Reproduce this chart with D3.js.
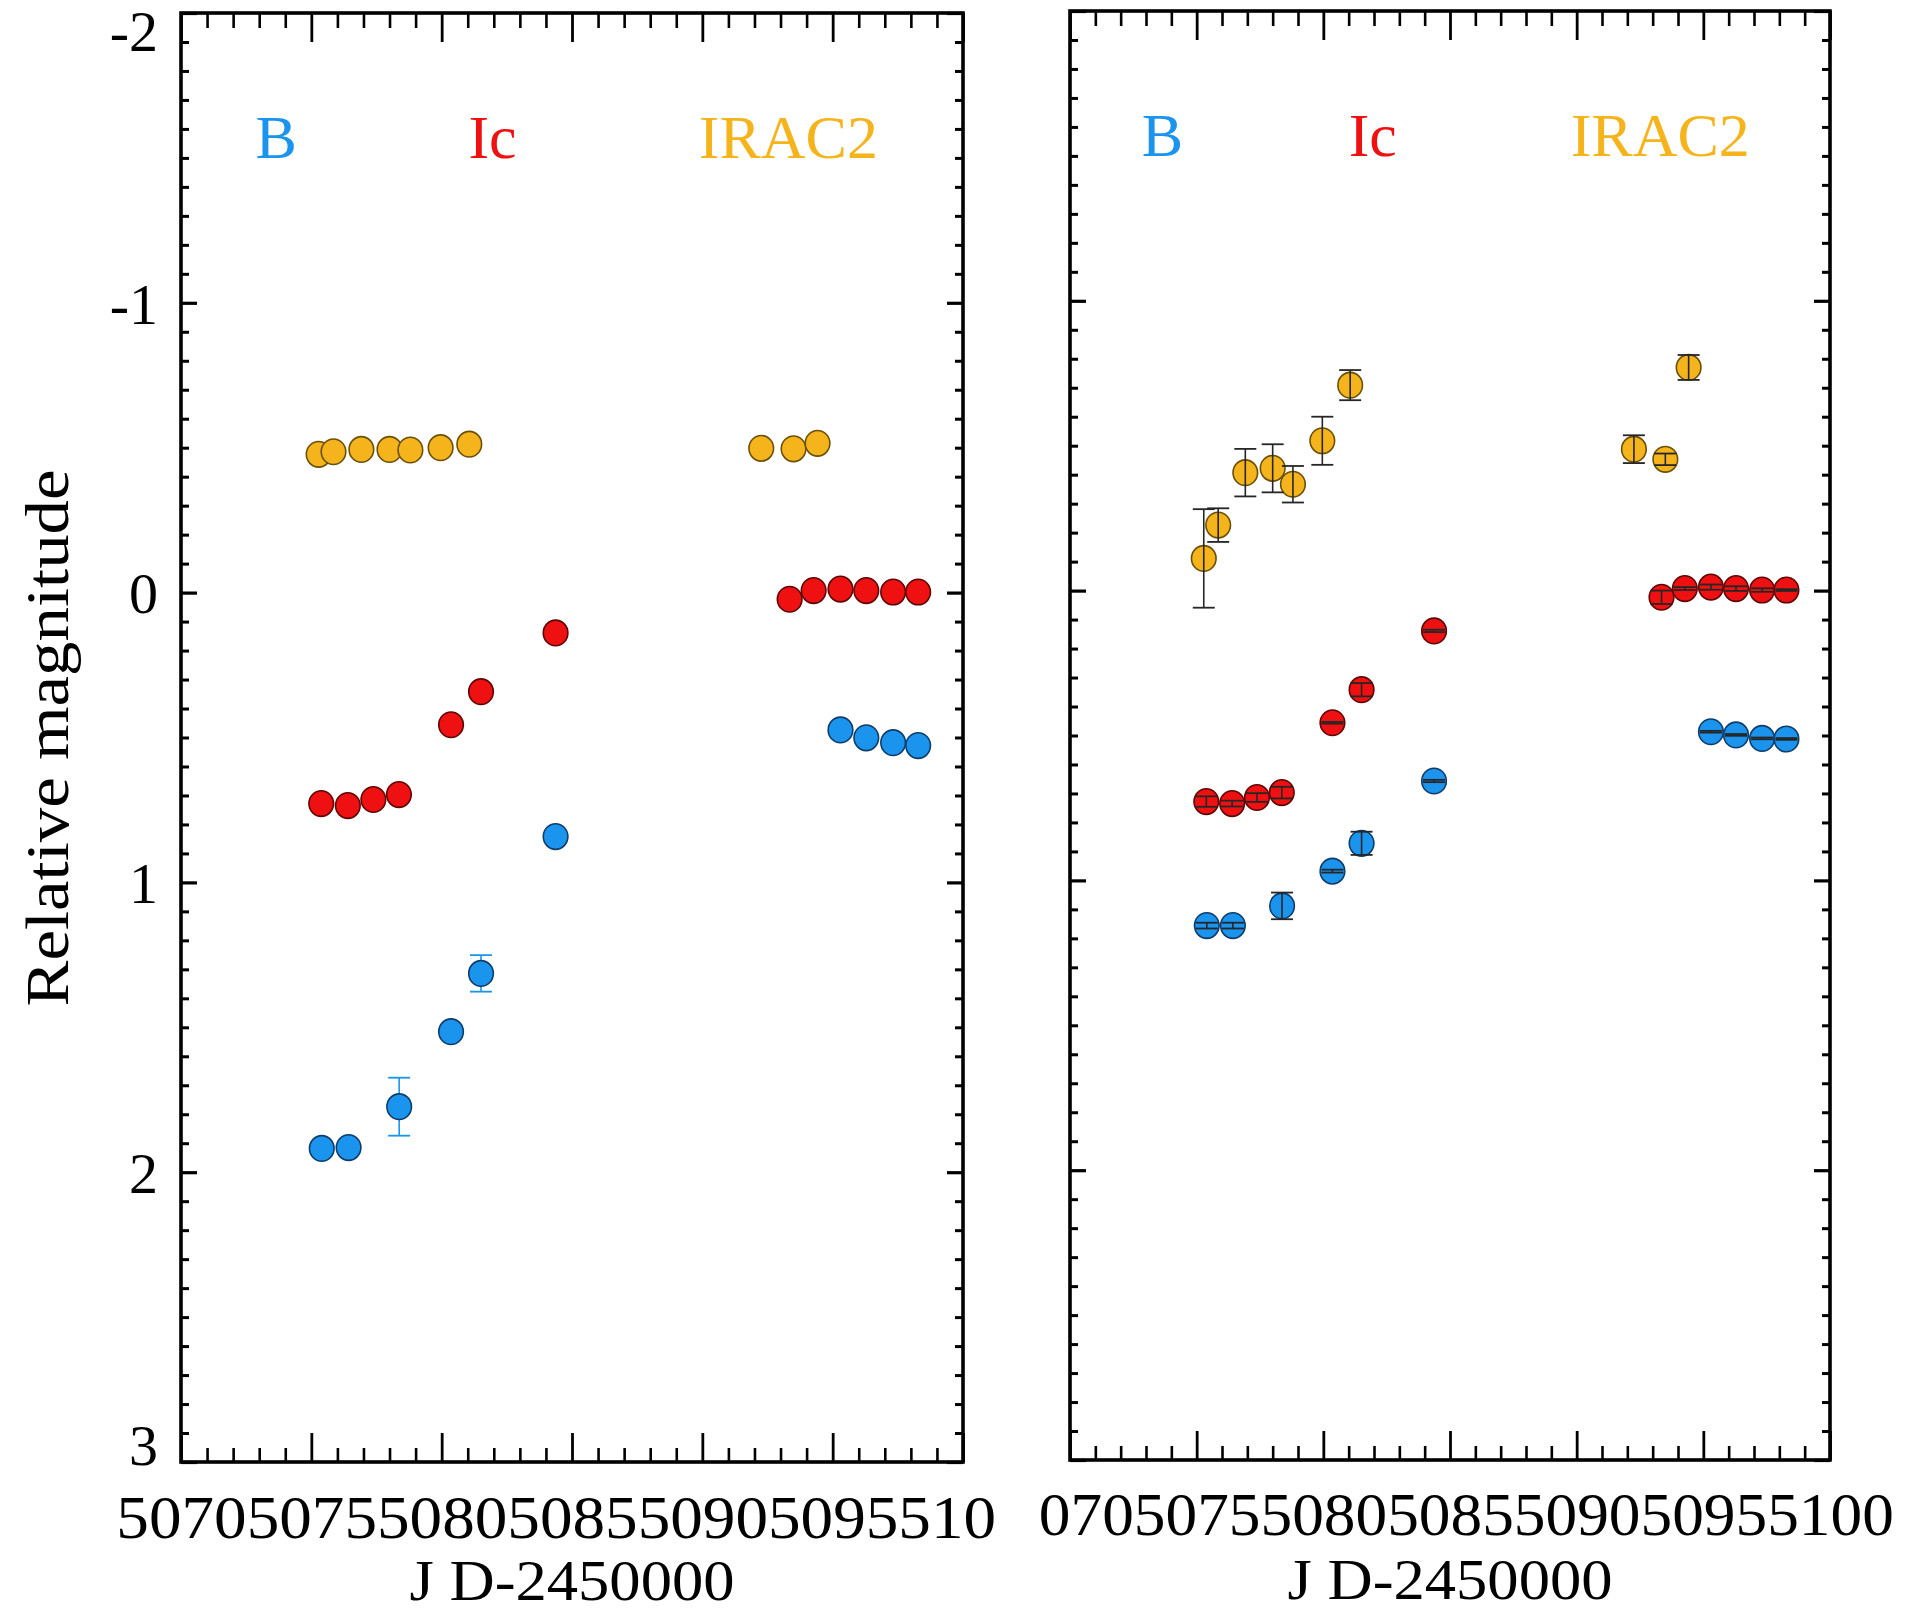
<!DOCTYPE html>
<html>
<head>
<meta charset="utf-8">
<script src="https://cdn.jsdelivr.net/npm/d3@7"></script>
<style>
  body { margin: 0; background: #fff; width: 1905px; height: 1613px; overflow: hidden; }
  svg { position: absolute; top: 0; overflow: hidden; }
  text { font-family: "Liberation Serif", "Times New Roman", Times, serif; fill: #000; }
</style>
</head>
<body>
<script>
// ---- Photometry (JD - 2450000, relative magnitudes) ----
const xTicks = [5070, 5075, 5080, 5085, 5090, 5095, 5100];
const yTicks = [-2, -1, 0, 1, 2, 3];

const bandNames = ["B", "Ic", "IRAC2"];
const bandColors = ["#1b94ee", "#ef1111", "#f5b41c"];
const bandStrokes = ["#0e3d6a", "#5e0505", "#6a5008"];
const bandLabelX = [5073.65, 5081.95, 5093.3];
const bandLabelY = -1.5;

const irac2Dates = [5075.28, 5075.85, 5076.92, 5078.0, 5078.8, 5079.96, 5081.06, 5092.26, 5093.5, 5094.42];
const icDates = [5075.38, 5076.40, 5077.38, 5078.36, 5080.36, 5081.51, 5084.37, 5093.35, 5094.27, 5095.30, 5096.29, 5097.32, 5098.28];
const bDates = [5075.40, 5076.43, 5078.37, 5080.36, 5081.51, 5084.37, 5095.30, 5096.29, 5097.32, 5098.28];

const icMag = [0.728, 0.735, 0.714, 0.697, 0.456, 0.342, 0.139, 0.023, -0.007, -0.012, -0.007, -0.002, -0.002];
const icErr = [0.018, 0.010, 0.015, 0.020, 0.003, 0.023, 0.004, 0.023, 0.005, 0.009, 0.008, 0.006, 0.003];

const bMagLeft = [1.918, 1.915, 1.774, 1.515, 1.314, 0.842, 0.474, 0.501, 0.518, 0.528];
const bErrLeft = [0.005, 0.005, 0.100, 0.005, 0.063, 0.005, 0.003, 0.003, 0.003, 0.003];
const bMagRight = [1.156, 1.156, 1.088, 0.968, 0.872, 0.657, 0.487, 0.498, 0.510, 0.512];
const bErrRight = [0.010, 0.010, 0.046, 0.005, 0.040, 0.004, 0.003, 0.003, 0.003, 0.003];

const irac2MagLeft = [-0.477, -0.486, -0.494, -0.494, -0.492, -0.500, -0.512, -0.498, -0.496, -0.515];
const irac2MagRight = [-0.111, -0.226, -0.407, -0.422, -0.367, -0.517, -0.709, -0.488, -0.453, -0.770];
const irac2ErrRight = [0.170, 0.058, 0.082, 0.083, 0.063, 0.083, 0.052, 0.048, 0.020, 0.043];

const xTitle = "J D-2450000";
const yTitle = "Relative magnitude";

function zipSeries(dates, mags, errs) {
  return dates.map((d, i) => ({ jd: d, mag: mags[i], err: errs ? errs[i] : 0 }));
}

// ---- Panel drawing ----
function drawPanel(cfg) {
  const svg = d3.select("body").append("svg")
    .attr("width", cfg.width)
    .attr("height", 1613)
    .style("left", cfg.left + "px");

  const x0 = cfg.x0 - cfg.left, x1 = cfg.x1 - cfg.left;
  const x = d3.scaleLinear().domain([xTicks[0], xTicks[xTicks.length - 1]]).range([x0, x1]);
  const y = d3.scaleLinear().domain([yTicks[0], yTicks[yTicks.length - 1]]).range([cfg.y0, cfg.y1]);

  const xMinor = d3.range(xTicks[0], xTicks[xTicks.length - 1] + 0.5, 1).filter(v => !xTicks.includes(v));
  const yMinor = d3.range(-20, 31).map(v => v / 10).filter(v => Math.abs(v - Math.round(v)) > 1e-6);

  const styleTicks = (g, w) => {
    g.select(".domain").remove();
    g.selectAll(".tick line").attr("stroke", "#000").attr("stroke-width", w);
  };

  // minor ticks
  svg.append("g").attr("transform", `translate(0,${cfg.y1})`)
    .call(d3.axisBottom(x).tickValues(xMinor).tickSize(-14).tickFormat(""))
    .call(g => styleTicks(g, 2.6));
  svg.append("g").attr("transform", `translate(0,${cfg.y0})`)
    .call(d3.axisTop(x).tickValues(xMinor).tickSize(-15).tickFormat(""))
    .call(g => styleTicks(g, 2.6));
  svg.append("g").attr("transform", `translate(${x0},0)`)
    .call(d3.axisLeft(y).tickValues(yMinor).tickSize(-8).tickFormat(""))
    .call(g => styleTicks(g, 3));
  svg.append("g").attr("transform", `translate(${x1},0)`)
    .call(d3.axisRight(y).tickValues(yMinor).tickSize(-8).tickFormat(""))
    .call(g => styleTicks(g, 3));

  // major ticks
  const labelW = (x1 - x0) / (xTicks.length - 1);
  svg.append("g").attr("transform", `translate(0,${cfg.y1})`)
    .call(d3.axisBottom(x).tickValues(xTicks).tickSize(-29).tickFormat(d3.format("d")))
    .call(g => {
      styleTicks(g, 2.8);
      g.selectAll(".tick text")
        .attr("y", cfg.labelDrop)
        .attr("dy", null)
        .attr("font-size", 61)
        .attr("textLength", labelW)
        .attr("lengthAdjust", "spacingAndGlyphs")
        .attr("font-family", "Liberation Serif, Times New Roman, serif")
        .attr("fill", "#000");
    });
  svg.append("g").attr("transform", `translate(0,${cfg.y0})`)
    .call(d3.axisTop(x).tickValues(xTicks).tickSize(-29).tickFormat(""))
    .call(g => styleTicks(g, 2.8));

  const yAxisLeft = d3.axisLeft(y).tickValues(yTicks).tickSize(-16)
    .tickFormat(cfg.yLabels ? (d => String(d)) : "");
  svg.append("g").attr("transform", `translate(${x0},0)`)
    .call(yAxisLeft)
    .call(g => {
      styleTicks(g, 3.2);
      if (!cfg.yLabels) {
        g.selectAll(".tick text").remove();
        return;
      }
      g.selectAll(".tick text")
        .attr("x", -23)
        .attr("dy", "0.35em")
        .attr("y", d => Math.min(Math.max(y(d), cfg.y0 + 17), cfg.y1 - 18) - y(d))
        .attr("font-size", 58)
        .attr("font-family", "Liberation Serif, Times New Roman, serif")
        .attr("fill", "#000");
    });
  svg.append("g").attr("transform", `translate(${x1},0)`)
    .call(d3.axisRight(y).tickValues(yTicks).tickSize(-16).tickFormat(""))
    .call(g => { styleTicks(g, 3.2); g.selectAll(".tick text").remove(); });

  // frame
  svg.append("rect")
    .attr("x", x0).attr("y", cfg.y0)
    .attr("width", x1 - x0).attr("height", cfg.y1 - cfg.y0)
    .attr("fill", "none").attr("stroke", "#000").attr("stroke-width", 3.6);

  // band labels
  svg.append("g").selectAll("text").data(bandNames).join("text")
    .attr("x", (d, i) => x(bandLabelX[i]))
    .attr("y", y(bandLabelY))
    .attr("text-anchor", "middle")
    .attr("font-size", 62)
    .style("fill", (d, i) => bandColors[i])
    .text(d => d);

  // x title
  svg.append("text")
    .attr("x", (x0 + x1) / 2)
    .attr("y", cfg.y1 + cfg.titleDrop)
    .attr("text-anchor", "middle")
    .attr("font-size", 57)
    .attr("textLength", 325)
    .attr("lengthAdjust", "spacingAndGlyphs")
    .text(xTitle);

  // y title
  if (cfg.yLabels) {
    svg.append("text")
      .attr("transform", `translate(68,738) rotate(-90)`)
      .attr("text-anchor", "middle")
      .attr("font-size", 62)
      .attr("textLength", 537)
      .attr("lengthAdjust", "spacingAndGlyphs")
      .text(yTitle);
  }

  // data
  const plot = svg.append("g");
  cfg.series.forEach(s => {
    const g = plot.append("g");
    const bars = g.append("g");
    const dots = g.append("g");
    const errLayer = cfg.errorsOnTop ? g.append("g") : bars;
    const withErr = s.data.filter(d => d.err > 0 && s.showErr);
    const capW = 11;
    const errStroke = cfg.errorsOnTop ? "#262626" : bandColors[s.band];
    errLayer.selectAll("line.v").data(withErr).join("line")
      .attr("class", "v")
      .attr("x1", d => x(d.jd)).attr("x2", d => x(d.jd))
      .attr("y1", d => y(d.mag - d.err)).attr("y2", d => y(d.mag + d.err))
      .attr("stroke", errStroke).attr("stroke-width", 1.6);
    errLayer.selectAll("line.t").data(withErr).join("line")
      .attr("class", "t")
      .attr("x1", d => x(d.jd) - capW).attr("x2", d => x(d.jd) + capW)
      .attr("y1", d => y(d.mag - d.err)).attr("y2", d => y(d.mag - d.err))
      .attr("stroke", errStroke).attr("stroke-width", 1.8);
    errLayer.selectAll("line.b").data(withErr).join("line")
      .attr("class", "b")
      .attr("x1", d => x(d.jd) - capW).attr("x2", d => x(d.jd) + capW)
      .attr("y1", d => y(d.mag + d.err)).attr("y2", d => y(d.mag + d.err))
      .attr("stroke", errStroke).attr("stroke-width", 1.8);
    dots.selectAll("ellipse").data(s.data).join("ellipse")
      .attr("cx", d => x(d.jd)).attr("cy", d => y(d.mag))
      .attr("rx", 12.3).attr("ry", 12.8)
      .attr("fill", bandColors[s.band])
      .attr("stroke", bandStrokes[s.band])
      .attr("stroke-width", 1.6);
  });
}

drawPanel({
  left: 0, width: 994,
  x0: 181, x1: 963, y0: 13, y1: 1462,
  labelDrop: 76, titleDrop: 138,
  yLabels: true, errorsOnTop: false,
  series: [
    { band: 2, data: zipSeries(irac2Dates, irac2MagLeft, null), showErr: false },
    { band: 1, data: zipSeries(icDates, icMag, icErr), showErr: false },
    { band: 0, data: zipSeries(bDates, bMagLeft, bErrLeft), showErr: true }
  ]
});

drawPanel({
  left: 1039, width: 866,
  x0: 1070, x1: 1830, y0: 11, y1: 1460,
  labelDrop: 75, titleDrop: 139,
  yLabels: false, errorsOnTop: true,
  series: [
    { band: 2, data: zipSeries(irac2Dates, irac2MagRight, irac2ErrRight), showErr: true },
    { band: 1, data: zipSeries(icDates, icMag, icErr), showErr: true },
    { band: 0, data: zipSeries(bDates, bMagRight, bErrRight), showErr: true }
  ]
});
</script>
</body>
</html>
